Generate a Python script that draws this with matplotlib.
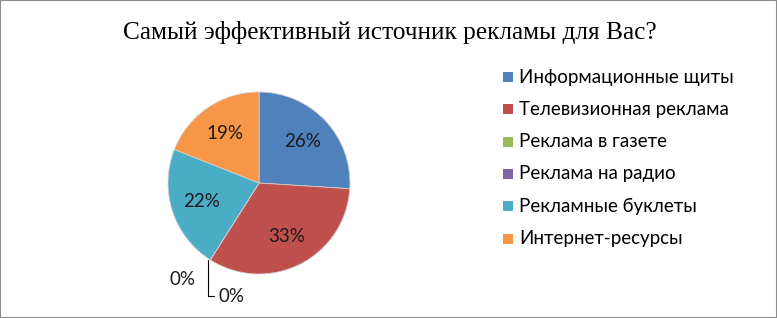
import numpy as np
import matplotlib.pyplot as plt
from matplotlib.patches import Rectangle

title = "Самый эффективный источник рекламы для Вас?"
categories = ["Информационные щиты", "Телевизионная реклама", "Реклама в газете",
              "Реклама на радио", "Рекламные буклеты", "Интернет-ресурсы"]
values = [26, 33, 0, 0, 22, 19]
colors = ["#4F81BD", "#C0504D", "#9BBB59", "#8064A2", "#4BACC6", "#F79646"]

W, H = 777, 318
fig = plt.figure(figsize=(W / 100, H / 100), dpi=100)
fig.patches.append(Rectangle((0, 0), 1, 1, transform=fig.transFigure,
                             fill=False, edgecolor="#8c8c8c", linewidth=1.5))

fig.text(390 / W, 1 - 33 / H, title, family="Liberation Serif", fontsize=18.3,
         ha="center", va="center")

# pie centred at (259, 183) px, radius ~91 px
cx, cy, r = 259, 183, 91
ax = fig.add_axes([(cx - r) / W, (H - cy - r) / H, 2 * r / W, 2 * r / H])
wedges, _ = ax.pie(values, colors=colors, startangle=90, counterclock=False,
                   wedgeprops=dict(linewidth=0.6, edgecolor="#d0d0d0"))
ax.set_xlim(-1, 1)
ax.set_ylim(-1, 1)
ax.set_aspect("equal")
ax.axis("off")

font = "Lato"
fs = 13.5
for w, v in zip(wedges, values):
    if v == 0:
        continue
    ang = np.deg2rad((w.theta1 + w.theta2) / 2)
    ax.text(0.66 * np.cos(ang), 0.66 * np.sin(ang), f"{v}%", ha="center", va="center",
            family=font, fontsize=fs, color="#1a1a1a")

# zero slices sit on the red/cyan boundary
zeros = [w for w, v in zip(wedges, values) if v == 0]
edge = np.deg2rad(zeros[0].theta1)
ex, ey = np.cos(edge), np.sin(edge)
ax.text(ex - 0.31, ey - 0.22, f"{values[2]}%", ha="center", va="center",
        family=font, fontsize=fs, color="#1a1a1a")
ax.annotate(f"{values[3]}%", xy=(ex - 0.02, ey), xytext=(ex + 0.09, ey - 0.40),
            ha="left", va="center", family=font, fontsize=fs, color="#1a1a1a",
            arrowprops=dict(arrowstyle="-", color="black", lw=0.8,
                            shrinkA=1, shrinkB=0,
                            connectionstyle="angle,angleA=0,angleB=90,rad=0"))

# legend
for i, (cat, col) in enumerate(zip(categories, colors)):
    y = 77 + i * 32.3
    fig.patches.append(Rectangle((503 / W, 1 - (y + 5) / H), 10 / W, 10 / H,
                                 transform=fig.transFigure, facecolor=col, edgecolor="none"))
    fig.text(519 / W, 1 - y / H, cat, family=font, fontsize=fs, ha="left", va="center")

fig.savefig("out.png", dpi=100)
